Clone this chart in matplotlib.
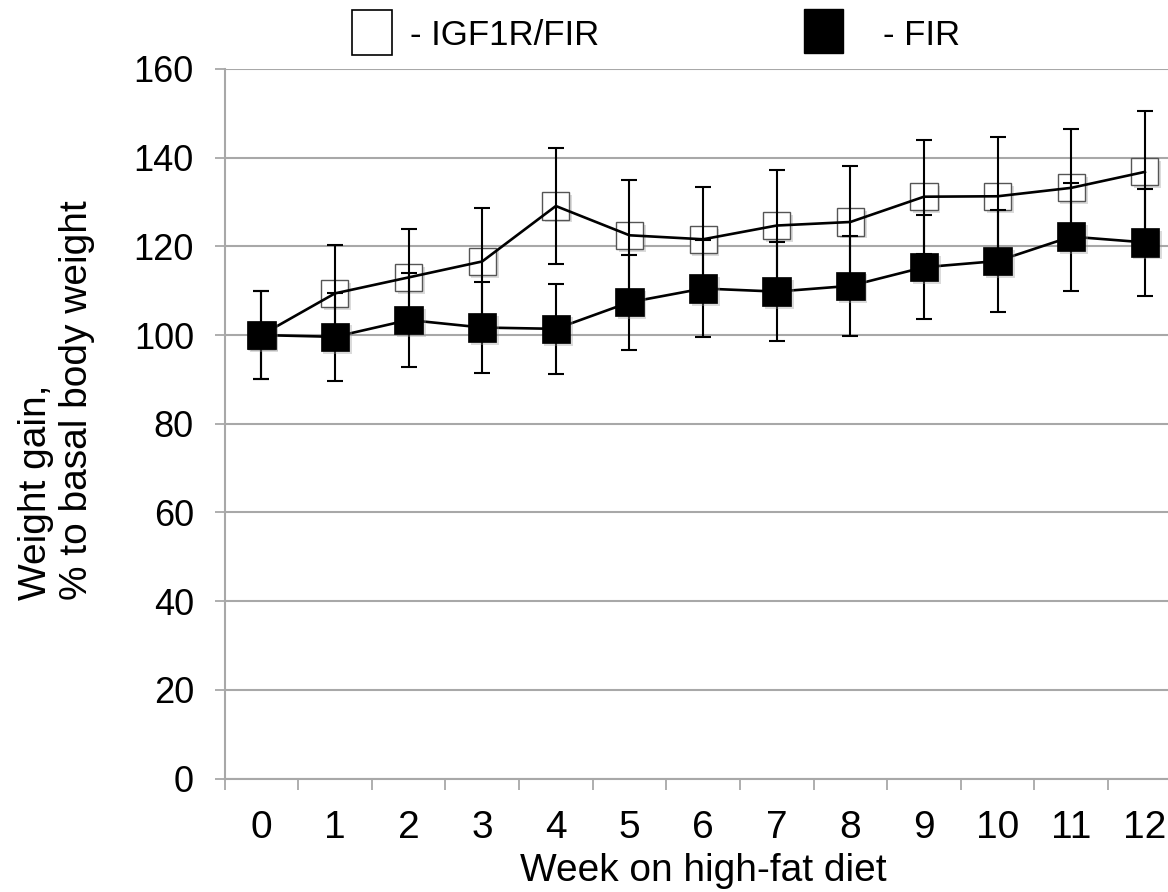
import matplotlib
matplotlib.use("Agg")
import matplotlib.pyplot as plt
import matplotlib.patheffects as pe
from matplotlib.patches import Rectangle

weeks = list(range(13))
week_labels = [str(w) for w in weeks]

igf1r_fir_mean = [100, 109.4, 113.0, 116.6, 129.1, 122.5, 121.6, 124.7, 125.5, 131.2, 131.3, 133.2, 136.8]
igf1r_fir_err = [10, 11.0, 11.0, 12.0, 13.0, 12.4, 11.8, 12.6, 12.6, 12.9, 13.3, 13.3, 13.7]

fir_mean = [100, 99.6, 103.4, 101.7, 101.4, 107.4, 110.5, 109.8, 111.1, 115.3, 116.7, 122.2, 120.9]
fir_err = [10, 9.9, 10.5, 10.2, 10.2, 10.7, 11.0, 11.1, 11.3, 11.7, 11.6, 12.2, 12.1]

y_ticks = [0, 20, 40, 60, 80, 100, 120, 140, 160]

plt.rcParams["font.family"] = ["Liberation Sans", "DejaVu Sans"]

W, H = 1168, 892
fig = plt.figure(figsize=(W / 100, H / 100), dpi=100)
ax = fig.add_axes([224.5 / W, 1 - 778.5 / H, (1181.7 - 224.5) / W, (778.5 - 69) / H])

grid_col = "#a8a8a8"
shadow = [pe.SimplePatchShadow(offset=(2, -2), shadow_rgbFace="#999999", alpha=0.35), pe.Normal()]

# open squares sit under the lines and error bars
ax.plot(weeks, igf1r_fir_mean, ls="none", marker="s", ms=19.5, mfc="white",
        mec="#555555", mew=1.0, zorder=2, path_effects=shadow)
ax.errorbar(weeks, igf1r_fir_mean, yerr=igf1r_fir_err, color="black", lw=1.9,
            elinewidth=1.5, capsize=5.8, capthick=1.5, zorder=3)
ax.errorbar(weeks, fir_mean, yerr=fir_err, color="black", lw=1.9,
            elinewidth=1.5, capsize=5.8, capthick=1.5, zorder=3)
ax.plot(weeks, fir_mean, ls="none", marker="s", ms=20.5, mfc="black",
        mec="black", mew=0.5, zorder=4, path_effects=shadow)

ax.set_xlim(-0.5, 12.5)
ax.set_ylim(0, 160)
ax.set_yticks(y_ticks)
ax.yaxis.grid(True, color=grid_col, lw=1.5, zorder=0.5)
ax.set_axisbelow(True)

ax.set_xticks(weeks)
ax.set_xticklabels(week_labels, fontsize=28)
ax.set_xticks([w - 0.5 for w in weeks] + [12.5], minor=True)
ax.tick_params(axis="x", which="major", length=0, pad=23)
ax.tick_params(axis="x", which="minor", length=8, width=1.3, color=grid_col, direction="out")
ax.tick_params(axis="y", length=7, width=1.3, color=grid_col, direction="out", pad=15, labelsize=26)

for side in ["top", "right"]:
    ax.spines[side].set_visible(False)
for side in ["left", "bottom"]:
    ax.spines[side].set_color(grid_col)
    ax.spines[side].set_linewidth(1.5)

ax.set_xlabel("Week on high-fat diet", fontsize=28, labelpad=5)
fig.text(56.5 / W, 1 - 400 / H, "Weight gain,\n% to basal body weight", rotation=90,
         fontsize=28, ha="center", va="center", multialignment="left", linespacing=1.18)

# legend drawn as boxes and text above the plot
fig.patches.append(Rectangle((352 / W, 1 - 55 / H), 40 / W, 45 / H, transform=fig.transFigure,
                             facecolor="white", edgecolor="black", lw=1.2))
fig.patches.append(Rectangle((804 / W, 1 - 53 / H), 39 / W, 44 / H, transform=fig.transFigure,
                             facecolor="black", edgecolor="black", lw=1.0))
fig.text(410 / W, 1 - 45 / H, "- IGF1R/FIR", fontsize=25, va="baseline")
fig.text(883 / W, 1 - 45 / H, "- FIR", fontsize=25, va="baseline")

fig.savefig("out.png", dpi=100)
